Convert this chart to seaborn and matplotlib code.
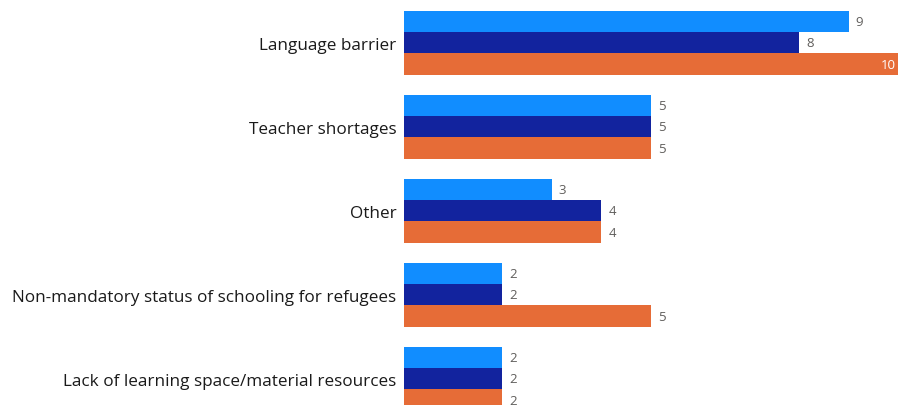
import matplotlib
matplotlib.use("Agg")
import matplotlib.pyplot as plt
import seaborn as sns
import pandas as pd

# Challenges reported, three response groups per category
categories = [
    "Language barrier",
    "Teacher shortages",
    "Other",
    "Non-mandatory status of schooling for refugees",
    "Lack of learning space/material resources",
]
series_names = ["Group A", "Group B", "Group C"]
group_a = [9, 5, 3, 2, 2]
group_b = [8, 5, 4, 2, 2]
group_c = [10, 5, 4, 5, 2]
palette = ["#118DFF", "#12239E", "#E66C37"]

df = pd.DataFrame({
    "category": categories * 3,
    "series": sum([[s] * len(categories) for s in series_names], []),
    "value": group_a + group_b + group_c,
})

sns.set_theme(style="white")
plt.rcParams["font.family"] = ["Open Sans", "DejaVu Sans"]

fig = plt.figure(figsize=(8.98, 4.06), dpi=100)
ax = fig.add_axes([403.5 / 898, 0, 1 - 403.5 / 898, 1])

sns.barplot(
    data=df, y="category", x="value", hue="series", order=categories,
    hue_order=series_names, palette=palette, orient="h", width=0.762,
    linewidth=0, saturation=1, legend=False, ax=ax,
)

xmax = 10
ax.set_xlim(0, xmax)
ax.set_ylim(4.313, -0.52)
ax.set_xlabel("")
ax.set_ylabel("")
ax.set_xticks([])
ax.tick_params(axis="y", length=0, pad=5, labelsize=12.3, labelcolor="#1a1a1a")
for s in ax.spines.values():
    s.set_visible(False)

for cont in ax.containers:
    for bar in cont:
        v = bar.get_width()
        yc = bar.get_y() + bar.get_height() / 2
        if v >= xmax:
            ax.text(v - 0.04, yc, f"{v:g}", ha="right", va="center",
                    color="white", fontsize=9.5)
        else:
            ax.annotate(f"{v:g}", (v, yc), xytext=(5, 0),
                        textcoords="offset points", ha="left", va="center",
                        color="#605E5C", fontsize=9.5)

fig.savefig("out.png", dpi=100)
